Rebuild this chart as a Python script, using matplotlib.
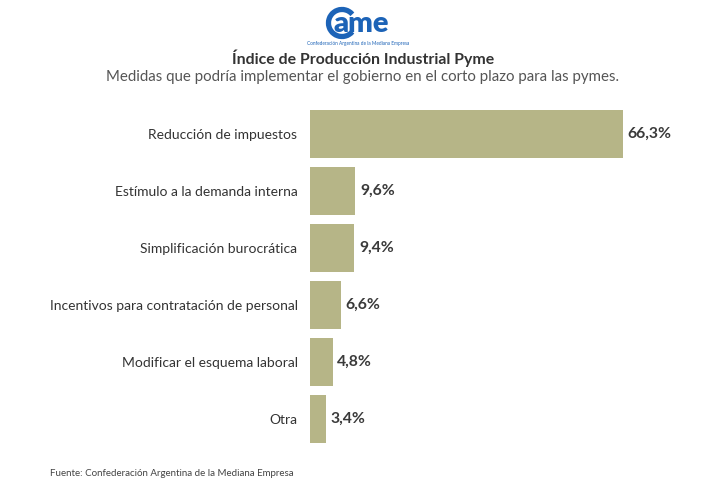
import matplotlib.pyplot as plt
from matplotlib.patches import Arc

plt.rcParams['font.family'] = ['Lato', 'DejaVu Sans']

categories = ['Reducción de impuestos', 'Estímulo a la demanda interna',
              'Simplificación burocrática', 'Incentivos para contratación de personal',
              'Modificar el esquema laboral', 'Otra']
values = [66.3, 9.6, 9.4, 6.6, 4.8, 3.4]
value_labels = ['66,3%', '9,6%', '9,4%', '6,6%', '4,8%', '3,4%']

W, H = 706, 494
fig = plt.figure(figsize=(W / 100, H / 100), dpi=100)
fig.patch.set_facecolor('white')

# axes placed in pixel terms
left, right = 310, 690
top, bottom = 105.5, 447.5
ax = fig.add_axes([left / W, 1 - bottom / H, (right - left) / W, (bottom - top) / H])

pos = list(range(len(categories)))
ax.barh(pos, values, height=0.84, color='#b6b587', edgecolor='none')
ax.set_xlim(0, (right - left) / 4.72)
ax.set_ylim(len(categories) - 0.5, -0.5)

for p, v, lab in zip(pos, values, value_labels):
    ax.text(v + 1.0, p, lab, va='center', ha='left', fontsize=11.3,
            fontweight='bold', color='#3a3a3a')

ax.set_yticks(pos)
ax.set_yticklabels(categories, fontsize=10, color='#333333')
ax.tick_params(axis='y', length=0, pad=9)
ax.set_xticks([])
for s in ax.spines.values():
    s.set_visible(False)

# logo, drawn in pixel coordinates
blue = '#1c63b7'
lg = fig.add_axes([0, 0, 1, 1], zorder=-1)
lg.set_xlim(0, W)
lg.set_ylim(H, 0)
lg.axis('off')
lg.add_patch(Arc((342, 23), 27, 27, theta1=40, theta2=320, color=blue, lw=3.8))
lg.text(334, 24.5, 'ame', ha='left', va='center', fontsize=21,
        fontweight='heavy', color=blue)
lg.text(358, 44, 'Confederación Argentina de la Mediana Empresa',
        ha='center', va='center', fontsize=3.4, color=blue)

fig.text(363 / W, 1 - 58 / H, 'Índice de Producción Industrial Pyme', ha='center',
         va='center', fontsize=11.4, fontweight='bold', color='#333333')
fig.text(363 / W, 1 - 77 / H,
         'Medidas que podría implementar el gobierno en el corto plazo para las pymes.',
         ha='center', va='center', fontsize=10.8, color='#555555')

fig.text(50 / W, 1 - 473 / H, 'Fuente: Confederación Argentina de la Mediana Empresa',
         ha='left', va='center', fontsize=7, color='#444444')

fig.savefig('out.png', dpi=100)
